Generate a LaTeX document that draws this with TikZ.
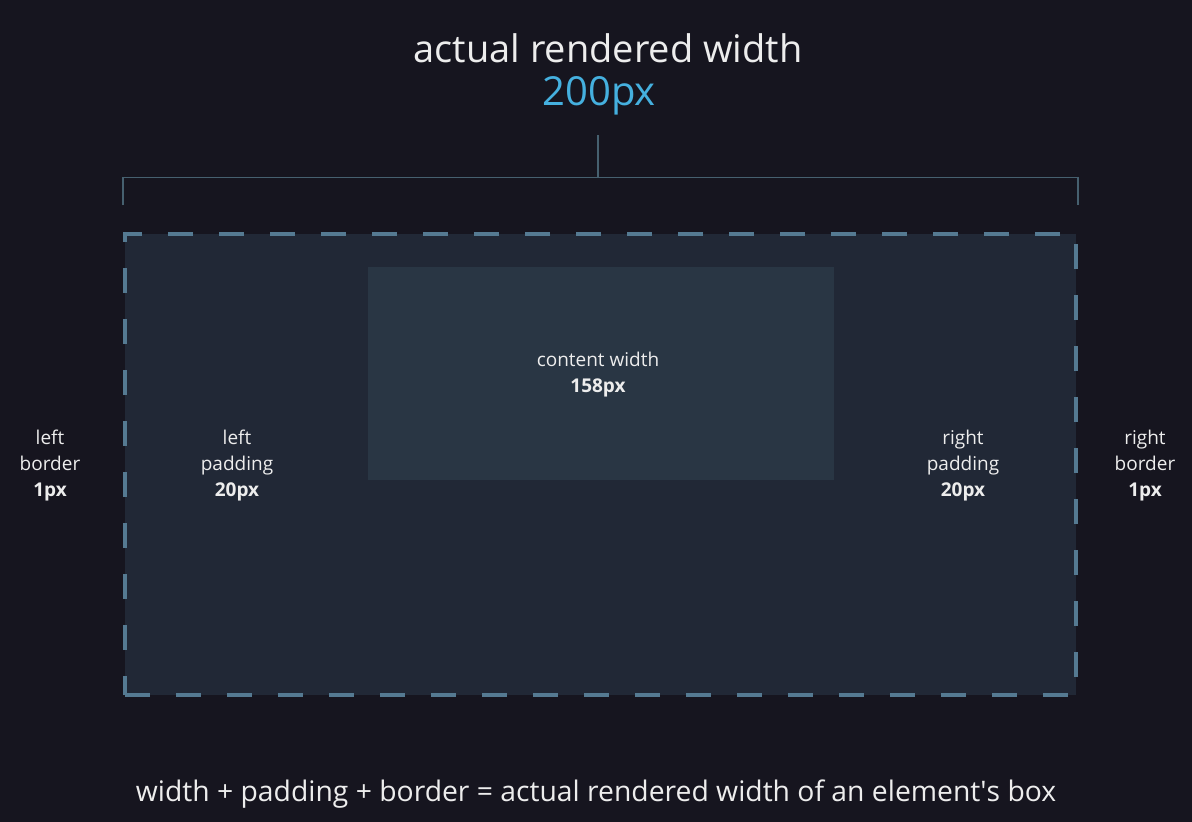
\documentclass[tikz,border=0pt]{standalone}
\usepackage{fontspec}
\setmainfont{Open Sans}
\usetikzlibrary{positioning}

\definecolor{bgdark}{HTML}{16151F}
\definecolor{boxfill}{HTML}{212836}
\definecolor{contentfill}{HTML}{293644}
\definecolor{dashblue}{HTML}{557A92}
\definecolor{bracketblue}{HTML}{46606F}
\definecolor{valblue}{HTML}{45B0DF}
\definecolor{labelwhite}{HTML}{EDEDED}

\tikzset{
  lbl/.style={text=labelwhite, align=center, inner sep=0pt, font=\fontsize{19}{26}\selectfont},
  bracketline/.style={draw=bracketblue, line width=1.5pt}
}

\begin{document}
\begin{tikzpicture}[x=1pt, y=-1pt]
  \fill[bgdark] (0,0) rectangle (1192,822);
  \useasboundingbox (0,0) rectangle (1192,822);

  \node (title) [text=labelwhite, font=\fontsize{38}{44}\selectfont, inner sep=0pt] at (608,48) {actual rendered width};
  \node (total) [text=valblue, font=\fontsize{40}{44}\selectfont, inner sep=0pt] at (599,96) {200px};

  \node (outer) [fill=boxfill, draw=dashblue, line width=4.5pt, dash pattern=on 25pt off 26pt,
    minimum width=951pt, minimum height=461pt, inner sep=0pt] at (600.5,464.5) {};
  \node (content) [fill=contentfill, minimum width=466pt, minimum height=213pt, inner sep=0pt] at (601,373.5) {};

  % bracket over the box
  \coordinate (bl) at (123,205);
  \coordinate (br) at (1078,205);
  \coordinate (bmid) at (598,177.5);
  \coordinate (btop) at (598,135);
  \draw[bracketline] (bl) |- (bmid) -| (br);
  \draw[bracketline] (btop) -- (bmid);

  \node (cw) [lbl] at (598,375) {content width\\\textbf{158px}};
  \node (lb) [lbl] at (50,466) {left\\border\\\textbf{1px}};
  \node (lp) [lbl] at (237,466) {left\\padding\\\textbf{20px}};
  \node (rp) [lbl] at (963,466) {right\\padding\\\textbf{20px}};
  \node (rb) [lbl] at (1145,466) {right\\border\\\textbf{1px}};

  \node (formula) [text=labelwhite, font=\fontsize{28.3}{32}\selectfont, inner sep=0pt] at (596,794) {width + padding + border = actual rendered width of an element\textquotesingle s box};
\end{tikzpicture}
\end{document}
